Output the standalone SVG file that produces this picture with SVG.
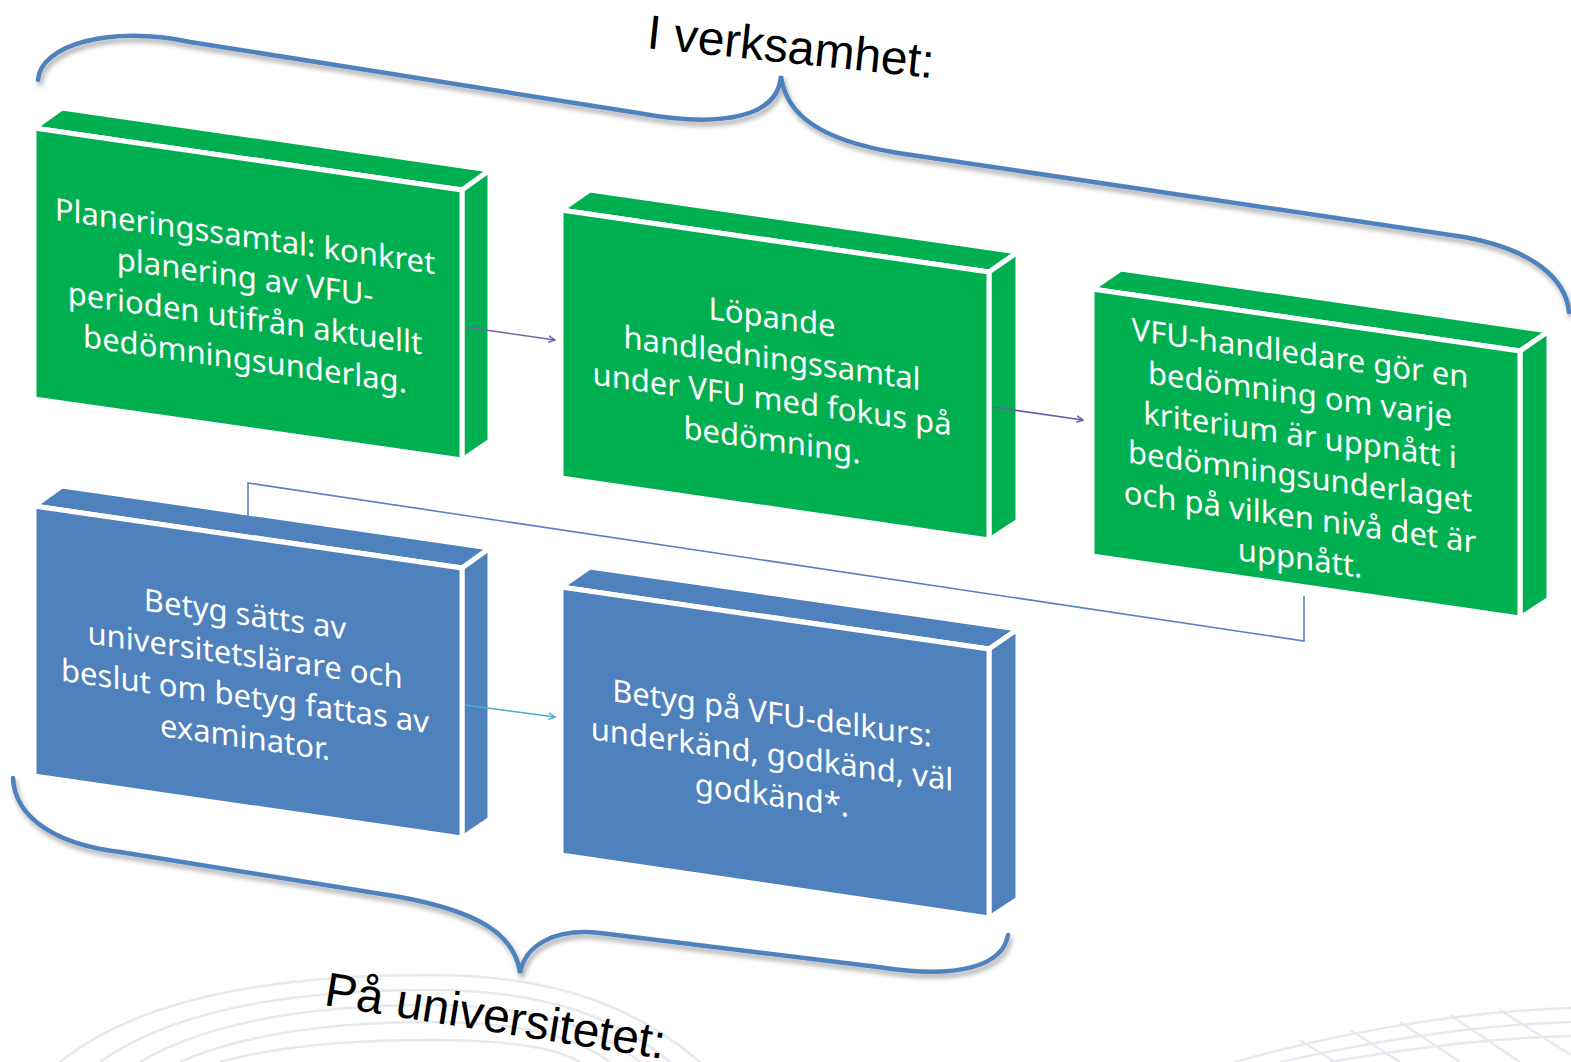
<svg xmlns="http://www.w3.org/2000/svg" width="1571" height="1062" viewBox="0 0 1571 1062">
<defs>
<style>
.face{stroke:#fff;stroke-width:5;stroke-linejoin:miter}
.g .face{fill:#00b050}
.b .face{fill:#4f81bd}
.t{font-family:"Noto Sans","Open Sans",sans-serif;font-size:31px;fill:#fff;text-anchor:middle}
.brace{fill:none;stroke:#4f81bd;stroke-width:4.5;stroke-linecap:round;filter:url(#sh)}
.lbl{font-family:"Liberation Sans",Arial,sans-serif;font-size:48px;fill:#000}
.bg{fill:none;stroke:#e6e9ed;stroke-width:2.5}
</style>
<filter id="sh" x="-5%" y="-20%" width="110%" height="140%">
<feDropShadow dx="2" dy="4" stdDeviation="2.5" flood-color="#000" flood-opacity="0.35"/>
</filter>
<marker id="ap" viewBox="0 0 10 10" refX="9" refY="5" markerWidth="8" markerHeight="8" orient="auto" markerUnits="userSpaceOnUse"><path d="M1,1 L9,5 L1,9" fill="none" stroke="#7a62a8" stroke-width="1.8"/></marker>
<marker id="ai" viewBox="0 0 10 10" refX="9" refY="5" markerWidth="8" markerHeight="8" orient="auto" markerUnits="userSpaceOnUse"><path d="M1,1 L9,5 L1,9" fill="none" stroke="#5f5fae" stroke-width="1.8"/></marker>
<marker id="at" viewBox="0 0 10 10" refX="9" refY="5" markerWidth="8" markerHeight="8" orient="auto" markerUnits="userSpaceOnUse"><path d="M1,1 L9,5 L1,9" fill="none" stroke="#4bacc6" stroke-width="1.8"/></marker>
<marker id="ab" viewBox="0 0 10 10" refX="9" refY="5" markerWidth="8" markerHeight="8" orient="auto" markerUnits="userSpaceOnUse"><path d="M1,1 L9,5 L1,9" fill="none" stroke="#5b7ec6" stroke-width="1.8"/></marker>
</defs>
<rect width="1571" height="1062" fill="#fff"/>

<g id="background">
<path class="bg" d="M60,1062 C150,990 300,975 430,975 C560,975 640,1010 700,1062"/>
<path class="bg" d="M100,1062 C180,1005 310,990 430,990 C550,990 620,1020 670,1062"/>
<path class="bg" d="M140,1062 C210,1020 320,1005 430,1005 C540,1005 600,1030 640,1062"/>
<path class="bg" d="M180,1062 C240,1035 330,1022 430,1022 C530,1022 580,1040 610,1062"/>
<path class="bg" d="M220,1062 C270,1048 340,1040 430,1040 C520,1040 560,1050 580,1062"/>
<path class="bg" d="M1235,1062 C1330,1035 1450,1012 1571,1008"/>
<path class="bg" d="M1280,1062 C1370,1042 1470,1025 1571,1022"/>
<path class="bg" d="M1330,1062 C1410,1048 1490,1038 1571,1036"/>
<path class="bg" d="M1300,1040 L1335,1062 M1350,1030 L1400,1062 M1400,1022 L1460,1062 M1450,1015 L1520,1062 M1500,1010 L1571,1055"/>
</g>

<g id="brace-top"><path class="brace" d="M38,80 C40,45 110,25 190,42 L638,113 C720,128 778,118 781,76 C786,115 820,140 898,153 L1464,237 C1535,250 1566,280 1569,312"/></g>
<text id="label-top" class="lbl" transform="translate(646,48) rotate(6)">I verksamhet:</text>

<g id="brace-bottom"><path class="brace" d="M13,778 C15,820 60,845 120,852 L400,897 C480,912 515,935 520,973 C525,945 555,928 600,933 L878,967 C960,980 1003,965 1008,935"/></g>
<text id="label-bottom" class="lbl" transform="translate(323,1005) rotate(9)">På universitetet:</text>

<g id="node1" class="g">
<polygon class="face" points="34,128 62,108 490,170 462,190"/>
<polygon class="face" points="462,190 490,170 490,441 462,460"/>
<polygon class="face" points="34,128 462,190 462,460 34,399"/>
<g transform="translate(245,298) skewY(8.1)">
<text class="t" x="0" y="-51">Planeringssamtal: konkret</text>
<text class="t" x="0" y="-10">planering av VFU-</text>
<text class="t" x="0" y="31">perioden utifrån aktuellt</text>
<text class="t" x="0" y="72">bedömningsunderlag.</text>
</g>
</g>

<g id="node2" class="g">
<polygon class="face" points="561,210 590,190 1018,252 989,272"/>
<polygon class="face" points="989,272 1018,252 1018,521 989,540"/>
<polygon class="face" points="561,210 989,272 989,540 561,478"/>
<g transform="translate(772,379) skewY(8.1)">
<text class="t" x="0" y="-51">Löpande</text>
<text class="t" x="0" y="-10">handledningssamtal</text>
<text class="t" x="0" y="31">under VFU med fokus på</text>
<text class="t" x="0" y="72">bedömning.</text>
</g>
</g>

<g id="node3" class="g">
<polygon class="face" points="1092,289 1121,269 1549,331 1520,351"/>
<polygon class="face" points="1520,351 1549,331 1549,599 1520,618"/>
<polygon class="face" points="1092,289 1520,351 1520,618 1092,556"/>
<g transform="translate(1300,456) skewY(8.1)">
<text class="t" x="0" y="-92">VFU-handledare gör en</text>
<text class="t" x="0" y="-51">bedömning om varje</text>
<text class="t" x="0" y="-10">kriterium är uppnått i</text>
<text class="t" x="0" y="31">bedömningsunderlaget</text>
<text class="t" x="0" y="72">och på vilken nivå det är</text>
<text class="t" x="0" y="113">uppnått.</text>
</g>
</g>

<g id="node4" class="b">
<polygon class="face" points="34,506 62,486 490,548 462,568"/>
<polygon class="face" points="462,568 490,548 490,819 462,838"/>
<polygon class="face" points="34,506 462,568 462,838 34,776"/>
<g transform="translate(245,676) skewY(8.1)">
<text class="t" x="0" y="-51">Betyg sätts av</text>
<text class="t" x="0" y="-10">universitetslärare och</text>
<text class="t" x="0" y="31">beslut om betyg fattas av</text>
<text class="t" x="0" y="72">examinator.</text>
</g>
</g>

<g id="node5" class="b">
<polygon class="face" points="561,587 590,567 1018,629 989,649"/>
<polygon class="face" points="989,649 1018,629 1018,899 989,918"/>
<polygon class="face" points="561,587 989,649 989,918 561,855"/>
<g transform="translate(772,755) skewY(8.1)">
<text class="t" x="0" y="-31">Betyg på VFU-delkurs:</text>
<text class="t" x="0" y="10">underkänd, godkänd, väl</text>
<text class="t" x="0" y="51">godkänd*.</text>
</g>
</g>

<g id="connectors" fill="none" stroke-width="1.6">
<line x1="465" y1="327" x2="555" y2="340" stroke="#7a62a8" marker-end="url(#ap)"/>
<line x1="993" y1="407" x2="1083" y2="420" stroke="#5f5fae" marker-end="url(#ai)"/>
<line x1="465" y1="705" x2="555" y2="717" stroke="#4bacc6" marker-end="url(#at)"/>
<polyline points="1304,596 1304,641 248,483 248,528" stroke="#5b7ec6" marker-end="url(#ab)"/>
</g>
</svg>
